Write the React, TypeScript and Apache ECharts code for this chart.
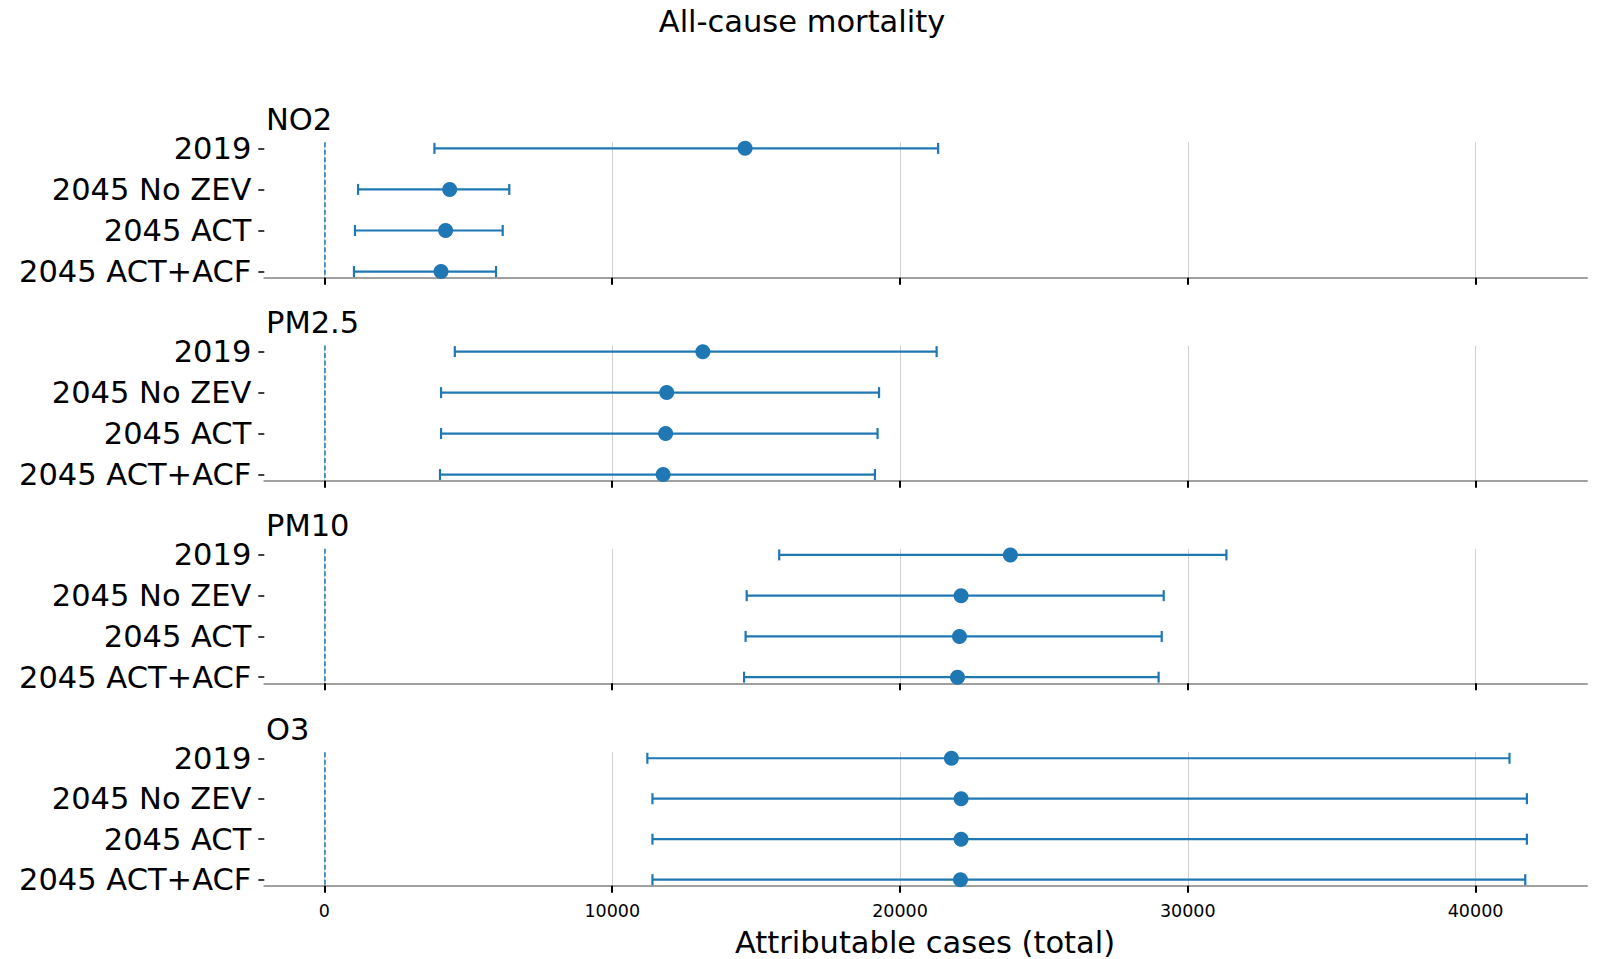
import React, { useEffect, useRef } from "react";
import * as echarts from "echarts";

const categories = ["2019", "2045 No ZEV", "2045 ACT", "2045 ACT+ACF"];
const pollutants = ["NO2", "PM2.5", "PM10", "O3"];

const no2Central = [14617, 4353, 4211, 4052];
const no2Lower = [3822, 1169, 1062, 1027];
const no2Upper = [21325, 6424, 6195, 5963];

const pm25Central = [13149, 11894, 11857, 11769];
const pm25Lower = [4531, 4052, 4052, 4017];
const pm25Upper = [21273, 19272, 19220, 19130];

const pm10Central = [23836, 22123, 22067, 21998];
const pm10Lower = [15803, 14672, 14635, 14582];
const pm10Upper = [31342, 29164, 29095, 28987];

const o3Central = [21786, 22123, 22123, 22102];
const o3Lower = [11221, 11398, 11398, 11398];
const o3Upper = [41179, 41783, 41783, 41727];

const xTicks = [0, 10000, 20000, 30000, 40000];

const centrals = [no2Central, pm25Central, pm10Central, o3Central];
const lowers = [no2Lower, pm25Lower, pm10Lower, o3Lower];
const uppers = [no2Upper, pm25Upper, pm10Upper, o3Upper];

const COLOR = "#1f77b4";
const FONT = "DejaVu Sans";

const panelTops = [142.2, 345.5, 548.8, 752.2];
const panelBottoms = [277.7, 480.7, 683.3, 885.7];

export default function App() {
  const ref = useRef<HTMLDivElement>(null);

  useEffect(() => {
    if (!ref.current) return;
    const chart = echarts.init(ref.current, null, { renderer: "svg" });

    const dataMax = Math.max(...uppers.map((u) => Math.max(...u)));
    const xMin = -0.05 * dataMax;
    const xMax = dataMax * 1.05;

    const grids: any[] = [];
    const xAxes: any[] = [];
    const yAxes: any[] = [];
    const series: any[] = [];
    const graphics: any[] = [];

    pollutants.forEach((name, i) => {
      grids.push({
        left: 264.3,
        right: 11,
        top: panelTops[i],
        height: panelBottoms[i] - panelTops[i],
      });
      xAxes.push({
        type: "value",
        gridIndex: i,
        min: xMin,
        max: xMax,
        axisLine: { show: true, onZero: false, lineStyle: { color: "#a0a0a0", width: 2 } },
        axisTick: {
          show: true,
          customValues: xTicks,
          length: 7,
          lineStyle: { color: "#000", width: 2 },
        },
        axisLabel: {
          show: i === 3,
          customValues: xTicks,
          fontSize: 17.5,
          margin: 16,
          color: "#000",
          fontFamily: FONT,
          formatter: (v: number) => String(Math.round(v)),
        },
        splitLine: { show: true, lineStyle: { color: "#d0d0d0", width: 1 } },
      });
      yAxes.push({
        type: "value",
        gridIndex: i,
        inverse: true,
        min: -0.15,
        max: 3.15,
        axisLine: { show: false, onZero: false },
        splitLine: { show: false },
        axisTick: {
          show: true,
          customValues: [0, 1, 2, 3],
          length: 6,
          lineStyle: { color: "#000", width: 1.5 },
        },
        axisLabel: {
          show: true,
          customValues: [0, 1, 2, 3],
          margin: 13,
          fontSize: 30.5,
          color: "#000",
          fontFamily: FONT,
          formatter: (v: number) => categories[Math.round(v)] ?? "",
        },
      });

      series.push({
        type: "custom",
        xAxisIndex: i,
        yAxisIndex: i,
        data: categories.map((_, k) => [lowers[i][k], uppers[i][k], k]),
        encode: { x: [0, 1], y: 2 },
        z: 2,
        renderItem: (params: any, api: any) => {
          const y = api.value(2);
          const p1 = api.coord([api.value(0), y]);
          const p2 = api.coord([api.value(1), y]);
          const h = 5.5;
          const style = { stroke: COLOR, lineWidth: 2.2, fill: "none" };
          return {
            type: "group",
            children: [
              { type: "line", shape: { x1: p1[0], y1: p1[1], x2: p2[0], y2: p2[1] }, style },
              { type: "line", shape: { x1: p1[0], y1: p1[1] - h, x2: p1[0], y2: p1[1] + h }, style },
              { type: "line", shape: { x1: p2[0], y1: p2[1] - h, x2: p2[0], y2: p2[1] + h }, style },
            ],
          };
        },
      });

      series.push({
        type: "scatter",
        xAxisIndex: i,
        yAxisIndex: i,
        data: categories.map((_, k) => [centrals[i][k], k]),
        symbol: "circle",
        symbolSize: 15,
        itemStyle: { color: COLOR, opacity: 1 },
        z: 3,
        markLine: {
          silent: true,
          symbol: ["none", "none"],
          label: { show: false },
          lineStyle: { color: COLOR, type: [5, 2.5], width: 1.5, opacity: 1 },
          data: [{ xAxis: 0 }],
        },
      });

      graphics.push({
        type: "text",
        x: 266,
        y: panelTops[i] - 23,
        style: {
          text: name,
          fontSize: 30.5,
          fontFamily: FONT,
          fill: "#000",
          align: "left",
          verticalAlign: "middle",
        },
      });
    });

    graphics.push({
      type: "text",
      x: 802,
      y: 21.5,
      style: {
        text: "All-cause mortality",
        fontSize: 30.5,
        fontFamily: FONT,
        fill: "#000",
        align: "center",
        verticalAlign: "middle",
      },
    });
    graphics.push({
      type: "text",
      x: 925,
      y: 942,
      style: {
        text: "Attributable cases (total)",
        fontSize: 30.5,
        fontFamily: FONT,
        fill: "#000",
        align: "center",
        verticalAlign: "middle",
      },
    });

    chart.setOption({
      animation: false,
      backgroundColor: "#fff",
      grid: grids,
      xAxis: xAxes,
      yAxis: yAxes,
      series,
      graphic: graphics,
    });

    return () => chart.dispose();
  }, []);

  return (
    <div
      ref={ref}
      style={{ position: "fixed", left: 0, top: 0, width: 1598, height: 959 }}
    />
  );
}
